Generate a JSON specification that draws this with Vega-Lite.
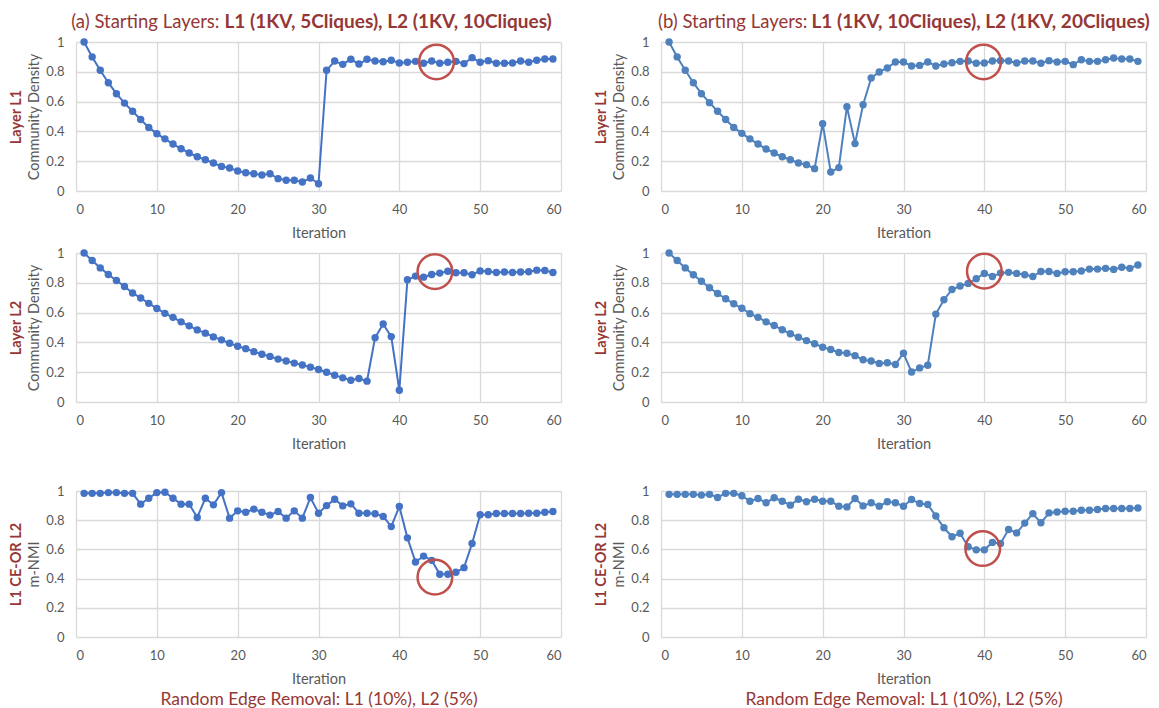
{
"$schema":"https://vega.github.io/schema/vega-lite/v6.json",
"padding":{"left":8,"top":12,"right":0,"bottom":0},
"background":"white",
"config":{
 "view":{"stroke":null},
 "font":"Lato",
 "axis":{"domain":false,"ticks":false,"gridColor":"#d9d9d9","gridWidth":1.3,"labelColor":"#595959","labelFont":"Lato","labelFontSize":13,"titleColor":"#595959","titleFont":"Lato","titleFontSize":14.5,"titleFontWeight":"normal"},
 "axisX":{"labelPadding":12,"titlePadding":10},
 "axisY":{"labelPadding":12,"titlePadding":4}
},
"datasets":{
"aL1":[{"i":1,"v":1},{"i":2,"v":0.9},{"i":3,"v":0.81},{"i":4,"v":0.727},{"i":5,"v":0.653},{"i":6,"v":0.59},{"i":7,"v":0.535},{"i":8,"v":0.48},{"i":9,"v":0.427},{"i":10,"v":0.385},{"i":11,"v":0.35},{"i":12,"v":0.315},{"i":13,"v":0.284},{"i":14,"v":0.255},{"i":15,"v":0.23},{"i":16,"v":0.21},{"i":17,"v":0.188},{"i":18,"v":0.165},{"i":19,"v":0.154},{"i":20,"v":0.134},{"i":21,"v":0.123},{"i":22,"v":0.116},{"i":23,"v":0.107},{"i":24,"v":0.116},{"i":25,"v":0.083},{"i":26,"v":0.072},{"i":27,"v":0.072},{"i":28,"v":0.06},{"i":29,"v":0.087},{"i":30,"v":0.049},{"i":31,"v":0.81},{"i":32,"v":0.872},{"i":33,"v":0.85},{"i":34,"v":0.884},{"i":35,"v":0.852},{"i":36,"v":0.884},{"i":37,"v":0.872},{"i":38,"v":0.868},{"i":39,"v":0.877},{"i":40,"v":0.859},{"i":41,"v":0.864},{"i":42,"v":0.87},{"i":43,"v":0.857},{"i":44,"v":0.872},{"i":45,"v":0.857},{"i":46,"v":0.864},{"i":47,"v":0.87},{"i":48,"v":0.855},{"i":49,"v":0.895},{"i":50,"v":0.864},{"i":51,"v":0.875},{"i":52,"v":0.857},{"i":53,"v":0.857},{"i":54,"v":0.859},{"i":55,"v":0.872},{"i":56,"v":0.864},{"i":57,"v":0.877},{"i":58,"v":0.886},{"i":59,"v":0.886}],
"bL1":[{"i":1,"v":1},{"i":2,"v":0.9},{"i":3,"v":0.81},{"i":4,"v":0.727},{"i":5,"v":0.653},{"i":6,"v":0.593},{"i":7,"v":0.535},{"i":8,"v":0.48},{"i":9,"v":0.427},{"i":10,"v":0.387},{"i":11,"v":0.35},{"i":12,"v":0.315},{"i":13,"v":0.282},{"i":14,"v":0.255},{"i":15,"v":0.23},{"i":16,"v":0.21},{"i":17,"v":0.188},{"i":18,"v":0.177},{"i":19,"v":0.15},{"i":20,"v":0.452},{"i":21,"v":0.128},{"i":22,"v":0.157},{"i":23,"v":0.566},{"i":24,"v":0.318},{"i":25,"v":0.579},{"i":26,"v":0.758},{"i":27,"v":0.799},{"i":28,"v":0.826},{"i":29,"v":0.866},{"i":30,"v":0.866},{"i":31,"v":0.839},{"i":32,"v":0.843},{"i":33,"v":0.866},{"i":34,"v":0.839},{"i":35,"v":0.852},{"i":36,"v":0.861},{"i":37,"v":0.87},{"i":38,"v":0.872},{"i":39,"v":0.857},{"i":40,"v":0.859},{"i":41,"v":0.872},{"i":42,"v":0.875},{"i":43,"v":0.872},{"i":44,"v":0.859},{"i":45,"v":0.872},{"i":46,"v":0.872},{"i":47,"v":0.857},{"i":48,"v":0.875},{"i":49,"v":0.866},{"i":50,"v":0.87},{"i":51,"v":0.848},{"i":52,"v":0.881},{"i":53,"v":0.87},{"i":54,"v":0.87},{"i":55,"v":0.881},{"i":56,"v":0.893},{"i":57,"v":0.886},{"i":58,"v":0.886},{"i":59,"v":0.87}],
"aL2":[{"i":1,"v":1},{"i":2,"v":0.95},{"i":3,"v":0.9},{"i":4,"v":0.856},{"i":5,"v":0.815},{"i":6,"v":0.775},{"i":7,"v":0.732},{"i":8,"v":0.698},{"i":9,"v":0.662},{"i":10,"v":0.628},{"i":11,"v":0.595},{"i":12,"v":0.568},{"i":13,"v":0.538},{"i":14,"v":0.511},{"i":15,"v":0.484},{"i":16,"v":0.462},{"i":17,"v":0.437},{"i":18,"v":0.417},{"i":19,"v":0.394},{"i":20,"v":0.374},{"i":21,"v":0.358},{"i":22,"v":0.338},{"i":23,"v":0.32},{"i":24,"v":0.306},{"i":25,"v":0.288},{"i":26,"v":0.275},{"i":27,"v":0.261},{"i":28,"v":0.248},{"i":29,"v":0.234},{"i":30,"v":0.218},{"i":31,"v":0.2},{"i":32,"v":0.18},{"i":33,"v":0.162},{"i":34,"v":0.146},{"i":35,"v":0.158},{"i":36,"v":0.14},{"i":37,"v":0.432},{"i":38,"v":0.523},{"i":39,"v":0.439},{"i":40,"v":0.079},{"i":41,"v":0.82},{"i":42,"v":0.845},{"i":43,"v":0.838},{"i":44,"v":0.856},{"i":45,"v":0.865},{"i":46,"v":0.878},{"i":47,"v":0.867},{"i":48,"v":0.867},{"i":49,"v":0.854},{"i":50,"v":0.88},{"i":51,"v":0.876},{"i":52,"v":0.869},{"i":53,"v":0.872},{"i":54,"v":0.869},{"i":55,"v":0.872},{"i":56,"v":0.874},{"i":57,"v":0.885},{"i":58,"v":0.883},{"i":59,"v":0.869}],
"bL2":[{"i":1,"v":1},{"i":2,"v":0.95},{"i":3,"v":0.9},{"i":4,"v":0.854},{"i":5,"v":0.81},{"i":6,"v":0.767},{"i":7,"v":0.728},{"i":8,"v":0.693},{"i":9,"v":0.659},{"i":10,"v":0.629},{"i":11,"v":0.593},{"i":12,"v":0.568},{"i":13,"v":0.538},{"i":14,"v":0.513},{"i":15,"v":0.485},{"i":16,"v":0.458},{"i":17,"v":0.435},{"i":18,"v":0.412},{"i":19,"v":0.391},{"i":20,"v":0.368},{"i":21,"v":0.352},{"i":22,"v":0.332},{"i":23,"v":0.327},{"i":24,"v":0.311},{"i":25,"v":0.284},{"i":26,"v":0.275},{"i":27,"v":0.259},{"i":28,"v":0.263},{"i":29,"v":0.252},{"i":30,"v":0.327},{"i":31,"v":0.201},{"i":32,"v":0.229},{"i":33,"v":0.247},{"i":34,"v":0.59},{"i":35,"v":0.686},{"i":36,"v":0.755},{"i":37,"v":0.778},{"i":38,"v":0.796},{"i":39,"v":0.828},{"i":40,"v":0.863},{"i":41,"v":0.842},{"i":42,"v":0.865},{"i":43,"v":0.87},{"i":44,"v":0.863},{"i":45,"v":0.854},{"i":46,"v":0.842},{"i":47,"v":0.876},{"i":48,"v":0.876},{"i":49,"v":0.863},{"i":50,"v":0.874},{"i":51,"v":0.874},{"i":52,"v":0.879},{"i":53,"v":0.892},{"i":54,"v":0.892},{"i":55,"v":0.897},{"i":56,"v":0.89},{"i":57,"v":0.904},{"i":58,"v":0.897},{"i":59,"v":0.92}],
"aN":[{"i":1,"v":0.984},{"i":2,"v":0.984},{"i":3,"v":0.984},{"i":4,"v":0.989},{"i":5,"v":0.989},{"i":6,"v":0.984},{"i":7,"v":0.984},{"i":8,"v":0.91},{"i":9,"v":0.95},{"i":10,"v":0.989},{"i":11,"v":0.991},{"i":12,"v":0.95},{"i":13,"v":0.91},{"i":14,"v":0.91},{"i":15,"v":0.819},{"i":16,"v":0.95},{"i":17,"v":0.905},{"i":18,"v":0.989},{"i":19,"v":0.814},{"i":20,"v":0.864},{"i":21,"v":0.855},{"i":22,"v":0.876},{"i":23,"v":0.855},{"i":24,"v":0.835},{"i":25,"v":0.86},{"i":26,"v":0.814},{"i":27,"v":0.864},{"i":28,"v":0.814},{"i":29,"v":0.955},{"i":30,"v":0.848},{"i":31,"v":0.9},{"i":32,"v":0.943},{"i":33,"v":0.898},{"i":34,"v":0.912},{"i":35,"v":0.848},{"i":36,"v":0.848},{"i":37,"v":0.844},{"i":38,"v":0.826},{"i":39,"v":0.756},{"i":40,"v":0.894},{"i":41,"v":0.679},{"i":42,"v":0.514},{"i":43,"v":0.554},{"i":44,"v":0.525},{"i":45,"v":0.43},{"i":46,"v":0.43},{"i":47,"v":0.443},{"i":48,"v":0.475},{"i":49,"v":0.64},{"i":50,"v":0.837},{"i":51,"v":0.837},{"i":52,"v":0.846},{"i":53,"v":0.846},{"i":54,"v":0.846},{"i":55,"v":0.846},{"i":56,"v":0.848},{"i":57,"v":0.848},{"i":58,"v":0.855},{"i":59,"v":0.86}],
"bN":[{"i":1,"v":0.977},{"i":2,"v":0.977},{"i":3,"v":0.977},{"i":4,"v":0.977},{"i":5,"v":0.972},{"i":6,"v":0.977},{"i":7,"v":0.956},{"i":8,"v":0.984},{"i":9,"v":0.984},{"i":10,"v":0.968},{"i":11,"v":0.93},{"i":12,"v":0.949},{"i":13,"v":0.919},{"i":14,"v":0.954},{"i":15,"v":0.93},{"i":16,"v":0.903},{"i":17,"v":0.944},{"i":18,"v":0.926},{"i":19,"v":0.944},{"i":20,"v":0.93},{"i":21,"v":0.93},{"i":22,"v":0.896},{"i":23,"v":0.891},{"i":24,"v":0.949},{"i":25,"v":0.898},{"i":26,"v":0.919},{"i":27,"v":0.896},{"i":28,"v":0.926},{"i":29,"v":0.919},{"i":30,"v":0.896},{"i":31,"v":0.942},{"i":32,"v":0.914},{"i":33,"v":0.907},{"i":34,"v":0.829},{"i":35,"v":0.748},{"i":36,"v":0.687},{"i":37,"v":0.711},{"i":38,"v":0.618},{"i":39,"v":0.597},{"i":40,"v":0.597},{"i":41,"v":0.648},{"i":42,"v":0.641},{"i":43,"v":0.736},{"i":44,"v":0.713},{"i":45,"v":0.78},{"i":46,"v":0.845},{"i":47,"v":0.782},{"i":48,"v":0.85},{"i":49,"v":0.856},{"i":50,"v":0.861},{"i":51,"v":0.861},{"i":52,"v":0.868},{"i":53,"v":0.868},{"i":54,"v":0.873},{"i":55,"v":0.88},{"i":56,"v":0.88},{"i":57,"v":0.88},{"i":58,"v":0.88},{"i":59,"v":0.884}],
"circ":[{"p":"aL1","i":44.6,"v":0.866},{"p":"bL1","i":39.9,"v":0.866},{"p":"aL2","i":44.4,"v":0.875},{"p":"bL2","i":40,"v":0.878},{"p":"aN","i":44.4,"v":0.41},{"p":"bN","i":39.8,"v":0.606}]
},
"vconcat":[
 {"concat":[
   {"width":485,"height":149,
    "layer":[
     {"data":{"name":"aL1"},"mark":{"type":"line","color":"#4472C4","strokeWidth":2,"point":{"filled":true,"size":55,"color":"#4472C4","opacity":1}},
      "encoding":{"x":{"field":"i","type":"quantitative","scale":{"domain":[0,60]},"axis":{"title":"Iteration","values":[0,10,20,30,40,50,60]}},
                  "y":{"field":"v","type":"quantitative","scale":{"domain":[0,1]},"axis":{"title":"Community Density","values":[0,0.2,0.4,0.6,0.8,1],"format":"~g"}}}},
     {"data":{"name":"circ"},"transform":[{"filter":"datum.p=='aL1'"}],"mark":{"type":"point","filled":false,"size":1200,"stroke":"#C0504D","strokeWidth":2.5,"opacity":1},
      "encoding":{"x":{"field":"i","type":"quantitative","scale":{"domain":[0,60]},"axis":{"orient":"top","labels":false,"grid":false,"title":"(a) Starting Layers:","titleColor":"#953735","titleFontSize":18.5,"titleAnchor":null,"titleAlign":"right","titleBaseline":"middle","titleX":143,"titleY":-21}},
                  "y":{"field":"v","type":"quantitative","scale":{"domain":[0,1]},"axis":null}}},
     {"data":{"name":"aL1"},"mark":{"type":"point","opacity":0},
      "encoding":{"x":{"field":"i","type":"quantitative","scale":{"domain":[0,60]},"axis":{"orient":"top","labels":false,"grid":false,"title":"L1 (1KV, 5Cliques), L2 (1KV, 10Cliques)","titleColor":"#953735","titleFontSize":19,"titleFontWeight":"bold","titleAnchor":null,"titleAlign":"left","titleBaseline":"middle","titleX":148,"titleY":-21}},
                  "y":{"field":"v","type":"quantitative","scale":{"domain":[0,1]},"axis":{"orient":"left","labels":false,"grid":false,"title":"Layer L1","titleColor":"#953735","titleFontWeight":"bold","titlePadding":53}}}}
    ],
    "resolve":{"scale":{"x":"independent","y":"independent"}}},
   {"width":485,"height":149,
    "layer":[
     {"data":{"name":"bL1"},"mark":{"type":"line","color":"#4F81BD","strokeWidth":2,"point":{"filled":true,"size":55,"color":"#4F81BD","opacity":1}},
      "encoding":{"x":{"field":"i","type":"quantitative","scale":{"domain":[0,60]},"axis":{"title":"Iteration","values":[0,10,20,30,40,50,60]}},
                  "y":{"field":"v","type":"quantitative","scale":{"domain":[0,1]},"axis":{"title":"Community Density","values":[0,0.2,0.4,0.6,0.8,1],"format":"~g"}}}},
     {"data":{"name":"circ"},"transform":[{"filter":"datum.p=='bL1'"}],"mark":{"type":"point","filled":false,"size":1200,"stroke":"#C0504D","strokeWidth":2.5,"opacity":1},
      "encoding":{"x":{"field":"i","type":"quantitative","scale":{"domain":[0,60]},"axis":{"orient":"top","labels":false,"grid":false,"title":"(b) Starting Layers:","titleColor":"#953735","titleFontSize":18.5,"titleAnchor":null,"titleAlign":"right","titleBaseline":"middle","titleX":146,"titleY":-21}},
                  "y":{"field":"v","type":"quantitative","scale":{"domain":[0,1]},"axis":null}}},
     {"data":{"name":"bL1"},"mark":{"type":"point","opacity":0},
      "encoding":{"x":{"field":"i","type":"quantitative","scale":{"domain":[0,60]},"axis":{"orient":"top","labels":false,"grid":false,"title":"L1 (1KV, 10Cliques), L2 (1KV, 20Cliques)","titleColor":"#953735","titleFontSize":19,"titleFontWeight":"bold","titleAnchor":null,"titleAlign":"left","titleBaseline":"middle","titleX":150,"titleY":-21}},
                  "y":{"field":"v","type":"quantitative","scale":{"domain":[0,1]},"axis":{"orient":"left","labels":false,"grid":false,"title":"Layer L1","titleColor":"#953735","titleFontWeight":"bold","titlePadding":53}}}}
    ],
    "resolve":{"scale":{"x":"independent","y":"independent"}}},
   {"width":485,"height":149,
    "layer":[
     {"data":{"name":"aL2"},"mark":{"type":"line","color":"#4472C4","strokeWidth":2,"point":{"filled":true,"size":55,"color":"#4472C4","opacity":1}},
      "encoding":{"x":{"field":"i","type":"quantitative","scale":{"domain":[0,60]},"axis":{"title":"Iteration","values":[0,10,20,30,40,50,60]}},
                  "y":{"field":"v","type":"quantitative","scale":{"domain":[0,1]},"axis":{"title":"Community Density","values":[0,0.2,0.4,0.6,0.8,1],"format":"~g"}}}},
     {"data":{"name":"circ"},"transform":[{"filter":"datum.p=='aL2'"}],"mark":{"type":"point","filled":false,"size":1200,"stroke":"#C0504D","strokeWidth":2.5,"opacity":1},
      "encoding":{"x":{"field":"i","type":"quantitative","scale":{"domain":[0,60]},"axis":null},
                  "y":{"field":"v","type":"quantitative","scale":{"domain":[0,1]},"axis":null}}},
     {"data":{"name":"aL2"},"mark":{"type":"point","opacity":0},
      "encoding":{"x":{"field":"i","type":"quantitative","scale":{"domain":[0,60]},"axis":null},
                  "y":{"field":"v","type":"quantitative","scale":{"domain":[0,1]},"axis":{"orient":"left","labels":false,"grid":false,"title":"Layer L2","titleColor":"#953735","titleFontWeight":"bold","titlePadding":53}}}}
    ],
    "resolve":{"scale":{"x":"independent","y":"independent"}}},
   {"width":485,"height":149,
    "layer":[
     {"data":{"name":"bL2"},"mark":{"type":"line","color":"#4F81BD","strokeWidth":2,"point":{"filled":true,"size":55,"color":"#4F81BD","opacity":1}},
      "encoding":{"x":{"field":"i","type":"quantitative","scale":{"domain":[0,60]},"axis":{"title":"Iteration","values":[0,10,20,30,40,50,60]}},
                  "y":{"field":"v","type":"quantitative","scale":{"domain":[0,1]},"axis":{"title":"Community Density","values":[0,0.2,0.4,0.6,0.8,1],"format":"~g"}}}},
     {"data":{"name":"circ"},"transform":[{"filter":"datum.p=='bL2'"}],"mark":{"type":"point","filled":false,"size":1200,"stroke":"#C0504D","strokeWidth":2.5,"opacity":1},
      "encoding":{"x":{"field":"i","type":"quantitative","scale":{"domain":[0,60]},"axis":null},
                  "y":{"field":"v","type":"quantitative","scale":{"domain":[0,1]},"axis":null}}},
     {"data":{"name":"bL2"},"mark":{"type":"point","opacity":0},
      "encoding":{"x":{"field":"i","type":"quantitative","scale":{"domain":[0,60]},"axis":null},
                  "y":{"field":"v","type":"quantitative","scale":{"domain":[0,1]},"axis":{"orient":"left","labels":false,"grid":false,"title":"Layer L2","titleColor":"#953735","titleFontWeight":"bold","titlePadding":53}}}}
    ],
    "resolve":{"scale":{"x":"independent","y":"independent"}}}
 ],"columns":2,"spacing":{"row":62,"column":100},"bounds":"flush"},
 {"concat":[
   {"width":485,"height":146,
    "layer":[
     {"data":{"name":"aN"},"mark":{"type":"line","color":"#4472C4","strokeWidth":2,"point":{"filled":true,"size":55,"color":"#4472C4","opacity":1}},
      "encoding":{"x":{"field":"i","type":"quantitative","scale":{"domain":[0,60]},"axis":{"title":"Iteration","values":[0,10,20,30,40,50,60]}},
                  "y":{"field":"v","type":"quantitative","scale":{"domain":[0,1]},"axis":{"title":"m-NMI","values":[0,0.2,0.4,0.6,0.8,1],"format":"~g"}}}},
     {"data":{"name":"circ"},"transform":[{"filter":"datum.p=='aN'"}],"mark":{"type":"point","filled":false,"size":1200,"stroke":"#C0504D","strokeWidth":2.5,"opacity":1},
      "encoding":{"x":{"field":"i","type":"quantitative","scale":{"domain":[0,60]},"axis":null},
                  "y":{"field":"v","type":"quantitative","scale":{"domain":[0,1]},"axis":null}}},
     {"data":{"name":"aN"},"mark":{"type":"point","opacity":0},
      "encoding":{"x":{"field":"i","type":"quantitative","scale":{"domain":[0,60]},"axis":{"orient":"bottom","labels":false,"grid":false,"title":"Random Edge Removal: L1 (10%), L2 (5%)","titleColor":"#953735","titleFontSize":17.5,"titlePadding":53}},
                  "y":{"field":"v","type":"quantitative","scale":{"domain":[0,1]},"axis":{"orient":"left","labels":false,"grid":false,"title":"L1 CE-OR L2","titleColor":"#953735","titleFontWeight":"bold","titlePadding":53}}}}
    ],
    "resolve":{"scale":{"x":"independent","y":"independent"}}},
   {"width":485,"height":146,
    "layer":[
     {"data":{"name":"bN"},"mark":{"type":"line","color":"#4F81BD","strokeWidth":2,"point":{"filled":true,"size":55,"color":"#4F81BD","opacity":1}},
      "encoding":{"x":{"field":"i","type":"quantitative","scale":{"domain":[0,60]},"axis":{"title":"Iteration","values":[0,10,20,30,40,50,60]}},
                  "y":{"field":"v","type":"quantitative","scale":{"domain":[0,1]},"axis":{"title":"m-NMI","values":[0,0.2,0.4,0.6,0.8,1],"format":"~g"}}}},
     {"data":{"name":"circ"},"transform":[{"filter":"datum.p=='bN'"}],"mark":{"type":"point","filled":false,"size":1200,"stroke":"#C0504D","strokeWidth":2.5,"opacity":1},
      "encoding":{"x":{"field":"i","type":"quantitative","scale":{"domain":[0,60]},"axis":null},
                  "y":{"field":"v","type":"quantitative","scale":{"domain":[0,1]},"axis":null}}},
     {"data":{"name":"bN"},"mark":{"type":"point","opacity":0},
      "encoding":{"x":{"field":"i","type":"quantitative","scale":{"domain":[0,60]},"axis":{"orient":"bottom","labels":false,"grid":false,"title":"Random Edge Removal: L1 (10%), L2 (5%)","titleColor":"#953735","titleFontSize":17.5,"titlePadding":53}},
                  "y":{"field":"v","type":"quantitative","scale":{"domain":[0,1]},"axis":{"orient":"left","labels":false,"grid":false,"title":"L1 CE-OR L2","titleColor":"#953735","titleFontWeight":"bold","titlePadding":53}}}}
    ],
    "resolve":{"scale":{"x":"independent","y":"independent"}}}
 ],"columns":2,"spacing":{"row":0,"column":100},"bounds":"flush"}
],
"spacing":34,"bounds":"full"
}
